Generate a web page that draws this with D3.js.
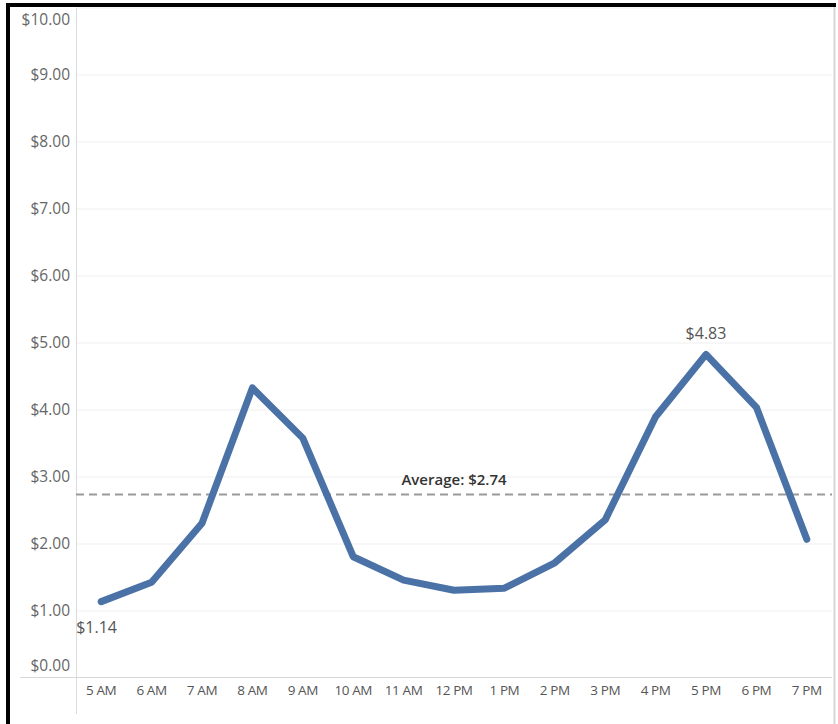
<!DOCTYPE html>
<html><head><meta charset="utf-8">
<script src="https://cdn.jsdelivr.net/npm/d3@7"></script>
<style>html,body{margin:0;padding:0;background:#fff;}svg{display:block;}</style>
</head><body>
<script>
const hours = ["5 AM","6 AM","7 AM","8 AM","9 AM","10 AM","11 AM","12 PM","1 PM","2 PM","3 PM","4 PM","5 PM","6 PM","7 PM"];
const values = [1.14,1.43,2.31,4.33,3.58,1.81,1.46,1.31,1.34,1.72,2.36,3.90,4.83,4.04,2.07];
const yTicks = [0,1,2,3,4,5,6,7,8,9,10];
const average = 2.74;
const labelledPoints = [{i:0, text:"$1.14", pos:"below"}, {i:12, text:"$4.83", pos:"above"}];

const W = 838, H = 724;
const svg = d3.select("body").append("svg").attr("width", W).attr("height", H);
const font = "'Open Sans', 'Noto Sans', sans-serif";

const x = d3.scaleBand().domain(hours).range([76, 832]);
const y = d3.scaleLinear().domain([0, 10]).range([678, 8]);

// gridlines
svg.append("g").selectAll("line").data(yTicks.filter(d => d > 0)).join("line")
  .attr("x1", 76).attr("x2", 832).attr("y1", d => y(d)).attr("y2", d => y(d))
  .attr("stroke", "#efefef").attr("stroke-width", 1);

// y axis vertical line
svg.append("line").attr("x1", 76.5).attr("x2", 76.5).attr("y1", 8).attr("y2", 714)
  .attr("stroke", "#dcdcdc").attr("stroke-width", 1);
// x axis line
svg.append("line").attr("x1", 20).attr("x2", 832).attr("y1", y(0) - 0.5).attr("y2", y(0) - 0.5)
  .attr("stroke", "#d8d8d8").attr("stroke-width", 1);
// right border
svg.append("line").attr("x1", 834.5).attr("x2", 834.5).attr("y1", 7).attr("y2", H)
  .attr("stroke", "#d6d6d6").attr("stroke-width", 2);

// y tick labels
const yAxis = d3.axisLeft(y).tickValues(yTicks).tickFormat(d => "$" + d3.format(".2f")(d)).tickSize(0);
const ya = svg.append("g").attr("transform", "translate(70,0)").call(yAxis);
ya.select(".domain").remove();
ya.selectAll("text").attr("font-family", font).attr("font-size", 15.5).attr("fill", "#666")
  .attr("x", 0)
  .attr("dy", d => d === 10 ? "1.05em" : d === 0 ? "-0.5em" : "0.32em");

// x tick labels
const xAxis = d3.axisBottom(x).tickSize(0);
const xa = svg.append("g").attr("transform", `translate(0,${y(0)})`).call(xAxis);
xa.select(".domain").remove();
xa.selectAll("text").attr("font-family", font).attr("font-size", 13.5).attr("fill", "#555")
  .attr("letter-spacing", "-0.4").attr("dy", "0.71em").attr("y", 7);

// average line
svg.append("line").attr("x1", 76).attr("x2", 832).attr("y1", y(average)).attr("y2", y(average))
  .attr("stroke", "#9a9a9a").attr("stroke-width", 2).attr("stroke-dasharray", "8,5");
svg.append("text").attr("x", x("12 PM") + x.bandwidth()/2).attr("y", y(average) - 9)
  .attr("text-anchor", "middle").attr("font-family", font).attr("font-size", 15)
  .attr("font-weight", 600).attr("fill", "#333").text("Average: $" + average.toFixed(2));

// line
const cx = d => x(d) + x.bandwidth()/2;
const line = d3.line().x((d, i) => cx(hours[i])).y(d => y(d));
svg.append("path").datum(values).attr("d", line).attr("fill", "none")
  .attr("stroke", "#4a72a6").attr("stroke-width", 7)
  .attr("stroke-linejoin", "round").attr("stroke-linecap", "round");

// point labels
labelledPoints.forEach(p => {
  const t = svg.append("text").attr("font-family", font).attr("font-size", 16).attr("fill", "#555").text(p.text);
  if (p.pos === "below") {
    t.attr("x", cx(hours[p.i]) - 25).attr("y", y(values[p.i]) + 31);
  } else {
    t.attr("x", cx(hours[p.i])).attr("y", y(values[p.i]) - 15).attr("text-anchor", "middle");
  }
});

// black frame (left and top)
svg.append("rect").attr("x", 6).attr("y", 3).attr("width", 4).attr("height", H).attr("fill", "#000");
svg.append("rect").attr("x", 6).attr("y", 3).attr("width", 830).attr("height", 4).attr("fill", "#000");
</script>
</body></html>
